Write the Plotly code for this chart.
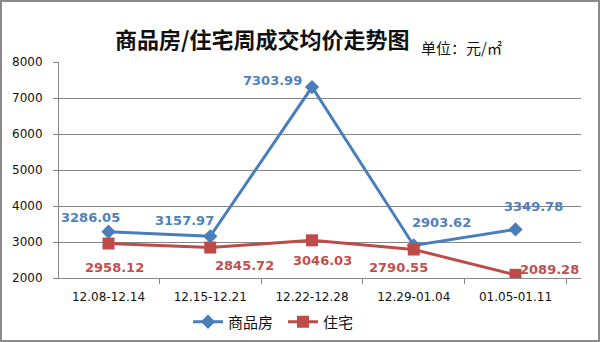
import plotly.graph_objects as go

categories = ["12.08-12.14", "12.15-12.21", "12.22-12.28", "12.29-01.04", "01.05-01.11"]
commercial = [3286.05, 3157.97, 7303.99, 2903.62, 3349.78]
residential = [2958.12, 2845.72, 3046.03, 2790.55, 2089.28]
series_names = ["商品房", "住宅"]
y_ticks = [2000, 3000, 4000, 5000, 6000, 7000, 8000]

BLUE = "#4A7EBB"
RED = "#BE4B48"
LBL_BLUE = "#4F81BD"
LBL_RED = "#C0504D"

fig = go.Figure()
fig.add_trace(go.Scatter(x=categories, y=commercial, name=series_names[0], mode="lines+markers",
                         line=dict(color=BLUE, width=3),
                         marker=dict(symbol="diamond", size=11, color=BLUE)))
fig.add_trace(go.Scatter(x=categories, y=residential, name=series_names[1], mode="lines+markers",
                         line=dict(color=RED, width=3),
                         marker=dict(symbol="square", size=12, color=RED)))

blue_off = [(-18, 14), (-26, 16), (-40, 7), (28, 23), (18, 23)]
red_off = [(6, -24), (34, -18), (10, -20), (-15, -18), (34, 5)]
anns = []
for c, v, (dx, dy) in zip(categories, commercial, blue_off):
    anns.append(dict(x=c, y=v, xref="x", yref="y", text=f"{v:.2f}", showarrow=False,
                     xshift=dx, yshift=dy,
                     font=dict(family="DejaVu Sans", size=13, color=LBL_BLUE, weight="bold")))
for c, v, (dx, dy) in zip(categories, residential, red_off):
    anns.append(dict(x=c, y=v, xref="x", yref="y", text=f"{v:.2f}", showarrow=False,
                     xshift=dx, yshift=dy,
                     font=dict(family="DejaVu Sans", size=13, color=LBL_RED, weight="bold")))

L, R, T, B = 59, 19, 62, 64
W, H = 600, 342
pw, ph = W - L - R, H - T - B

anns.append(dict(x=(262 - L) / pw, y=(H - B - 38) / ph, xref="paper", yref="paper",
                 text="<b>商品房/住宅周成交均价走势图</b>", showarrow=False,
                 xanchor="center", yanchor="middle",
                 font=dict(family="Noto Sans CJK SC", size=22, color="#111111")))
anns.append(dict(x=(461 - L) / pw, y=(H - B - 47) / ph, xref="paper", yref="paper",
                 text="单位：元/㎡", showarrow=False, xanchor="center", yanchor="middle",
                 font=dict(family="Noto Sans CJK SC", size=15, color="#111111")))

fig.update_layout(
    width=W, height=H,
    margin=dict(l=L, r=R, t=T, b=B, autoexpand=False),
    paper_bgcolor="white", plot_bgcolor="white",
    showlegend=True,
    legend=dict(orientation="h", x=(188 - L) / pw, xanchor="left", y=-44 / ph, yanchor="middle",
                font=dict(family="Noto Sans CJK SC", size=15, color="#111111"),
                entrywidth=50, entrywidthmode="pixels", tracegroupgap=0),
    annotations=anns,
    shapes=[dict(type="rect", xref="paper", yref="paper",
                 x0=-(L - 1) / pw, x1=1 + (R - 1) / pw,
                 y0=-(B - 1) / ph, y1=1 + (T - 1) / ph,
                 line=dict(color="#8A8A8A", width=2))],
)
fig.update_xaxes(type="category", showgrid=False, showline=True, linecolor="#868686", linewidth=1,
                 ticks="outside", tickson="boundaries", ticklen=5, tickcolor="#868686",
                 ticklabelstandoff=8,
                 tickfont=dict(family="DejaVu Sans", size=12, color="#111111"))
fig.update_yaxes(range=[2000, 8000], tickvals=y_ticks, showgrid=True, gridcolor="#868686",
                 gridwidth=1, showline=True, linecolor="#868686", linewidth=1,
                 ticks="outside", ticklen=5, tickcolor="#868686", zeroline=False,
                 ticklabelstandoff=8,
                 tickfont=dict(family="DejaVu Sans", size=12, color="#111111"))

fig.write_html("out.html")
